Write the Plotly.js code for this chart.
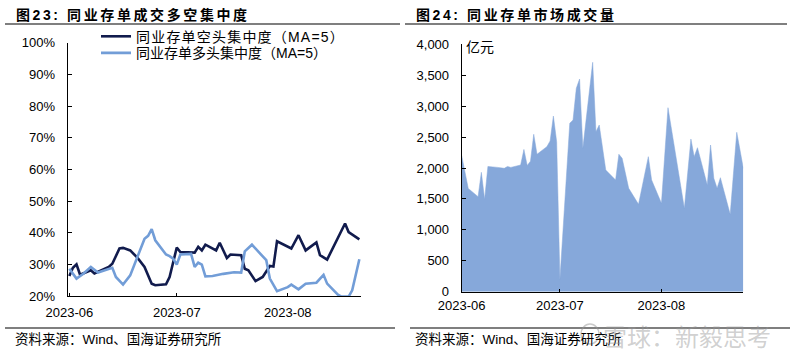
<!DOCTYPE html>
<html>
<head>
<meta charset="utf-8">
<script src="https://cdn.plot.ly/plotly-3.0.1.min.js"></script>
<style>
  html, body { margin: 0; padding: 0; background: #ffffff; }
  #chart { width: 800px; height: 354px; }
</style>
</head>
<body>
<div id="chart"></div>
<script>
// ---------- Data ----------
// Left chart: 同业存单空头/多头集中度 (MA=5), in %
const shortDates = ['2023-06-01','2023-06-02','2023-06-03','2023-06-04','2023-06-07','2023-06-08','2023-06-12','2023-06-13','2023-06-15','2023-06-16','2023-06-18','2023-06-19','2023-06-20','2023-06-22','2023-06-24','2023-06-25','2023-06-28','2023-06-29','2023-06-30','2023-07-01','2023-07-02','2023-07-05','2023-07-06','2023-07-07','2023-07-08','2023-07-09','2023-07-11','2023-07-12','2023-07-13','2023-07-15','2023-07-16','2023-07-19','2023-07-20','2023-07-21','2023-07-23','2023-07-25','2023-07-27','2023-07-28','2023-07-29','2023-08-02','2023-08-04','2023-08-06','2023-08-09','2023-08-10','2023-08-12','2023-08-17','2023-08-18','2023-08-21'];
const shortVals = [26.3,28.9,30.0,26.7,28.1,27.1,29.2,30.2,35.0,35.2,34.4,33.4,32.1,29.2,23.9,23.4,23.7,26.0,30.7,35.3,33.9,33.9,33.7,35.5,34.4,36.2,34.9,34.4,36.8,32.0,33.1,32.9,28.6,28.1,24.7,26.0,29.5,29.3,37.3,35.0,39.2,34.4,36.9,32.9,31.5,42.9,40.2,37.9];

const longDates = ['2023-06-01','2023-06-02','2023-06-03','2023-06-05','2023-06-07','2023-06-09','2023-06-13','2023-06-14','2023-06-16','2023-06-18','2023-06-20','2023-06-22','2023-06-23','2023-06-24','2023-06-25','2023-06-28','2023-06-29','2023-06-30','2023-07-01','2023-07-02','2023-07-05','2023-07-06','2023-07-07','2023-07-08','2023-07-09','2023-07-11','2023-07-14','2023-07-17','2023-07-19','2023-07-20','2023-07-22','2023-07-23','2023-07-25','2023-07-26','2023-07-27','2023-07-29','2023-08-01','2023-08-02','2023-08-04','2023-08-06','2023-08-09','2023-08-11','2023-08-12','2023-08-15','2023-08-16','2023-08-18','2023-08-19','2023-08-21'];
const longVals = [28.6,27.1,25.5,27.1,29.2,27.4,28.9,26.0,23.6,26.5,32.3,38.1,39.0,41.1,37.6,33.1,32.6,31.8,29.9,33.1,33.3,29.2,30.5,29.9,26.2,26.3,27.0,27.5,27.4,34.1,36.2,35.0,32.3,31.3,25.5,21.5,22.8,23.6,22.1,23.9,24.2,26.7,23.9,20.4,19.8,19.8,21.8,31.6];

const seriesNames = ['同业存单空头集中度（MA=5）', '同业存单多头集中度（MA=5）'];

// Right chart: 同业存单市场成交量, 亿元
const volDates = ['2023-06-01','2023-06-03','2023-06-06','2023-06-07','2023-06-08','2023-06-09','2023-06-12','2023-06-13','2023-06-14','2023-06-15','2023-06-16','2023-06-19','2023-06-20','2023-06-21','2023-06-22','2023-06-23','2023-06-24','2023-06-27','2023-06-28','2023-06-29','2023-06-30','2023-07-01','2023-07-04','2023-07-05','2023-07-06','2023-07-07','2023-07-08','2023-07-11','2023-07-12','2023-07-13','2023-07-15','2023-07-18','2023-07-19','2023-07-20','2023-07-22','2023-07-25','2023-07-28','2023-07-29','2023-08-01','2023-08-03','2023-08-08','2023-08-10','2023-08-11','2023-08-12','2023-08-15','2023-08-16','2023-08-17','2023-08-18','2023-08-19','2023-08-22','2023-08-24','2023-08-26'];
const volVals = [2200,1670,1536,1930,1495,2025,2010,2000,1995,2025,2010,2048,2300,2040,2110,2545,2222,2345,2437,2840,2425,200,2722,2776,3288,3439,2318,3709,2587,2695,1967,1806,2222,2157,1672,1413,2183,1806,1429,2975,1348,2469,2183,2328,1725,2372,1833,1672,1843,1251,2577,1995];

const titleLeft = '图23: 同业存单成交多空集中度';
const titleRight = '图24: 同业存单市场成交量';
const sourceText = '资料来源：Wind、国海证券研究所';
const unitText = '亿元';
const watermarkText = '雪球：新毅思考';

// ---------- Layout helpers (pixel -> paper) ----------
const W = 800, H = 354;
const px = v => v / W;
const py = v => 1 - v / H;

const FONT = 'Liberation Sans, Arial, Noto Sans CJK SC, sans-serif';

const traces = [
  { x: shortDates, y: shortVals, type: 'scatter', mode: 'lines', name: seriesNames[0],
    line: { color: '#111b4d', width: 2.6 }, xaxis: 'x', yaxis: 'y', legend: 'legend' },
  { x: longDates, y: longVals, type: 'scatter', mode: 'lines', name: seriesNames[1],
    line: { color: '#729dd7', width: 2.6 }, xaxis: 'x', yaxis: 'y', legend: 'legend2' },
  { x: volDates, y: volVals, type: 'scatter', mode: 'lines', fill: 'tozeroy',
    fillcolor: '#86a8da', line: { color: '#86a8da', width: 0.5 },
    showlegend: false, xaxis: 'x2', yaxis: 'y2' }
];

const axisCommon = {
  showline: true, linecolor: '#000', linewidth: 1,
  ticks: 'inside', ticklen: 4, tickcolor: '#000', tickwidth: 1,
  showgrid: false, zeroline: false,
  tickfont: { family: FONT, size: 13, color: '#000' }
};

const legendCommon = { xanchor: 'left', yanchor: 'middle', bgcolor: 'rgba(0,0,0,0)',
  font: { family: FONT, size: 14, color: '#000' }, borderwidth: 0 };

const layout = {
  width: W, height: H,
  margin: { l: 0, r: 0, t: 0, b: 0 },
  paper_bgcolor: '#ffffff', plot_bgcolor: '#ffffff',
  showlegend: true,
  legend: Object.assign({}, legendCommon, { x: px(96), y: py(36.7) }),
  legend2: Object.assign({}, legendCommon, { x: px(96), y: py(53.3) }),
  xaxis: Object.assign({}, axisCommon, {
    domain: [px(67.7), px(361)], anchor: 'y', type: 'date',
    range: ['2023-05-31 13:00', '2023-08-21 11:00'],
    tick0: '2023-06-01', dtick: 'M1', tickformat: '%Y-%m', ticklen: 3,
    ticklabelstandoff: 4
  }),
  yaxis: Object.assign({}, axisCommon, {
    domain: [py(296), py(42.7)], anchor: 'x',
    range: [20, 100], dtick: 10, ticksuffix: '%', ticklabelstandoff: 9
  }),
  xaxis2: Object.assign({}, axisCommon, {
    domain: [px(461.7), px(743.3)], anchor: 'y2', type: 'date',
    range: ['2023-06-01', '2023-08-26'],
    tick0: '2023-06-01', dtick: 'M1', tickformat: '%Y-%m', ticklen: 3,
    ticklabelstandoff: 2
  }),
  yaxis2: Object.assign({}, axisCommon, {
    domain: [py(291.7), py(44.3)], anchor: 'x2',
    range: [0, 4000], dtick: 500, tickformat: ',d', ticklabelstandoff: 9
  }),
  shapes: [
    { type: 'line', xref: 'paper', yref: 'paper', x0: px(5), x1: px(400), y0: py(24), y1: py(24), line: { color: '#000', width: 1.2 } },
    { type: 'line', xref: 'paper', yref: 'paper', x0: px(405), x1: px(787), y0: py(24), y1: py(24), line: { color: '#000', width: 1.2 } },
    { type: 'line', xref: 'paper', yref: 'paper', x0: px(5), x1: px(395), y0: py(328), y1: py(328), line: { color: '#000', width: 1.2 } },
    { type: 'line', xref: 'paper', yref: 'paper', x0: px(410), x1: px(790), y0: py(328), y1: py(328), line: { color: '#000', width: 1.2 } },
    { type: 'circle', xref: 'paper', yref: 'paper', x0: px(581), x1: px(599), y0: py(344), y1: py(324), line: { color: 'rgba(150,150,150,0.5)', width: 1.5 } }
  ],
  annotations: [
    { text: '<b>' + titleLeft + '</b>', xref: 'paper', yref: 'paper', x: px(14), y: py(15),
      xanchor: 'left', yanchor: 'middle', showarrow: false, font: { family: FONT, size: 14, color: '#000' } },
    { text: '<b>' + titleRight + '</b>', xref: 'paper', yref: 'paper', x: px(414), y: py(15),
      xanchor: 'left', yanchor: 'middle', showarrow: false, font: { family: FONT, size: 14, color: '#000' } },
    { text: sourceText, xref: 'paper', yref: 'paper', x: px(13), y: py(339),
      xanchor: 'left', yanchor: 'middle', showarrow: false, font: { family: FONT, size: 13.5, color: '#000' } },
    { text: sourceText, xref: 'paper', yref: 'paper', x: px(413), y: py(339),
      xanchor: 'left', yanchor: 'middle', showarrow: false, font: { family: FONT, size: 13.5, color: '#000' } },
    { text: unitText, xref: 'paper', yref: 'paper', x: px(464), y: py(47),
      xanchor: 'left', yanchor: 'middle', showarrow: false, font: { family: FONT, size: 14, color: '#000' } },
    { text: watermarkText, xref: 'paper', yref: 'paper', x: px(601), y: py(335),
      xanchor: 'left', yanchor: 'middle', showarrow: false, font: { family: 'Noto Sans CJK SC, sans-serif', size: 24, color: 'rgba(150,150,150,0.45)' } }
  ]
};

Plotly.newPlot('chart', traces, layout, { staticPlot: true, displayModeBar: false }).then(function () {
  // widen the bold figure titles a little, keeping their left edge in place
  document.querySelectorAll('.annotation-text').forEach(function (t) {
    const s = t.textContent || '';
    if (s.indexOf('图') === 0) {
      const bb = t.getBBox();
      t.setAttribute('text-anchor', 'start');
      t.setAttribute('x', bb.x);
      t.style.letterSpacing = '2.6px';
    }
  });
  // slightly looser legend text, without clipping it
  document.querySelectorAll('.legend .scrollbox').forEach(function (g) {
    g.removeAttribute('clip-path');
  });
  document.querySelectorAll('.legendtext').forEach(function (t) {
    t.style.letterSpacing = '1.2px';
  });
});
</script>
</body>
</html>
